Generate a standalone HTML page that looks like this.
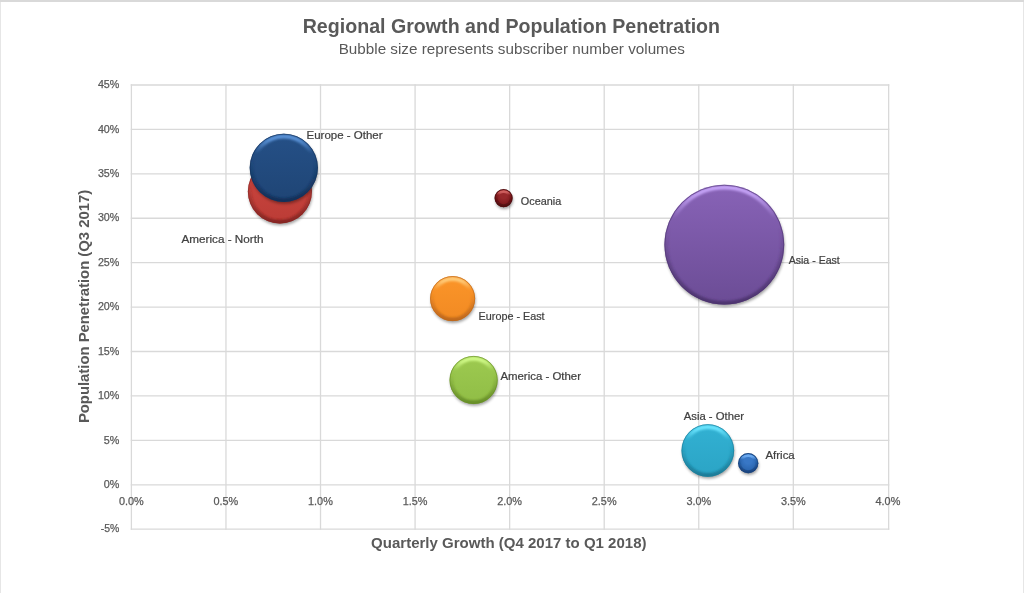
<!DOCTYPE html>
<html><head><meta charset="utf-8"><title>Regional Growth and Population Penetration</title>
<style>html,body{margin:0;padding:0;background:#fff;}body{width:1024px;height:593px;overflow:hidden;}svg{display:block;will-change:transform;font-family:"Liberation Sans",sans-serif;}</style></head><body>
<svg width="1024" height="593" viewBox="0 0 1024 593">
<defs>
<filter id="sh" x="-30%" y="-30%" width="160%" height="160%"><feGaussianBlur stdDeviation="1.7"/></filter>
<filter id="b1" x="-10%" y="-10%" width="120%" height="120%"><feGaussianBlur stdDeviation="1.25"/></filter>
<filter id="b0" x="-10%" y="-10%" width="120%" height="120%"><feGaussianBlur stdDeviation="0.7"/></filter>
<linearGradient id="r_red" x1="0" y1="0" x2="0" y2="1"><stop offset="0" stop-color="#ee8e84"/><stop offset="0.03" stop-color="#ee8e84"/><stop offset="0.24" stop-color="#cd4740"/><stop offset="0.7" stop-color="#bb3c36"/><stop offset="1" stop-color="#7c211e"/></linearGradient>
<radialGradient id="d_red" cx="0.5" cy="0.52" r="0.52" fx="0.5" fy="0.2"><stop offset="0" stop-color="#cd4740"/><stop offset="0.38" stop-color="#cd4740"/><stop offset="0.78" stop-color="#bb3c36"/><stop offset="1" stop-color="#7c211e"/></radialGradient>
<linearGradient id="h_red" x1="0" y1="0" x2="0" y2="1"><stop offset="0" stop-color="#ee8e84" stop-opacity="1"/><stop offset="0.06" stop-color="#ee8e84" stop-opacity="0.95"/><stop offset="0.27" stop-color="#ee8e84" stop-opacity="0"/></linearGradient>
<linearGradient id="l_red" x1="0" y1="0" x2="0" y2="1"><stop offset="0.35" stop-color="#7c211e" stop-opacity="0"/><stop offset="0.8" stop-color="#7c211e" stop-opacity="0.6"/><stop offset="1" stop-color="#7c211e" stop-opacity="0.85"/></linearGradient>
<clipPath id="c_red"><circle cx="279.90" cy="191.50" r="32.00"/></clipPath>
<linearGradient id="f_red" x1="0" y1="0" x2="0" y2="1"><stop offset="0" stop-color="#cd4740"/><stop offset="1" stop-color="#bb3c36"/></linearGradient>
<linearGradient id="r_navy" x1="0" y1="0" x2="0" y2="1"><stop offset="0" stop-color="#5a93d8"/><stop offset="0.03" stop-color="#5a93d8"/><stop offset="0.24" stop-color="#255087"/><stop offset="0.7" stop-color="#1f4575"/><stop offset="1" stop-color="#102c54"/></linearGradient>
<radialGradient id="d_navy" cx="0.5" cy="0.52" r="0.52" fx="0.5" fy="0.2"><stop offset="0" stop-color="#255087"/><stop offset="0.38" stop-color="#255087"/><stop offset="0.78" stop-color="#1f4575"/><stop offset="1" stop-color="#102c54"/></radialGradient>
<linearGradient id="h_navy" x1="0" y1="0" x2="0" y2="1"><stop offset="0" stop-color="#5a93d8" stop-opacity="1"/><stop offset="0.06" stop-color="#5a93d8" stop-opacity="0.95"/><stop offset="0.27" stop-color="#5a93d8" stop-opacity="0"/></linearGradient>
<linearGradient id="l_navy" x1="0" y1="0" x2="0" y2="1"><stop offset="0.35" stop-color="#102c54" stop-opacity="0"/><stop offset="0.8" stop-color="#102c54" stop-opacity="0.6"/><stop offset="1" stop-color="#102c54" stop-opacity="0.85"/></linearGradient>
<clipPath id="c_navy"><circle cx="283.80" cy="167.80" r="34.10"/></clipPath>
<linearGradient id="f_navy" x1="0" y1="0" x2="0" y2="1"><stop offset="0" stop-color="#255087"/><stop offset="1" stop-color="#1f4575"/></linearGradient>
<linearGradient id="r_ocean" x1="0" y1="0" x2="0" y2="1"><stop offset="0" stop-color="#d96a68"/><stop offset="0.03" stop-color="#d96a68"/><stop offset="0.24" stop-color="#97282b"/><stop offset="0.7" stop-color="#7c1a1d"/><stop offset="1" stop-color="#4f0c0f"/></linearGradient>
<radialGradient id="d_ocean" cx="0.5" cy="0.52" r="0.52" fx="0.5" fy="0.2"><stop offset="0" stop-color="#97282b"/><stop offset="0.38" stop-color="#97282b"/><stop offset="0.78" stop-color="#7c1a1d"/><stop offset="1" stop-color="#4f0c0f"/></radialGradient>
<linearGradient id="h_ocean" x1="0" y1="0" x2="0" y2="1"><stop offset="0" stop-color="#d96a68" stop-opacity="1"/><stop offset="0.06" stop-color="#d96a68" stop-opacity="0.95"/><stop offset="0.27" stop-color="#d96a68" stop-opacity="0"/></linearGradient>
<linearGradient id="l_ocean" x1="0" y1="0" x2="0" y2="1"><stop offset="0.35" stop-color="#4f0c0f" stop-opacity="0"/><stop offset="0.8" stop-color="#4f0c0f" stop-opacity="0.6"/><stop offset="1" stop-color="#4f0c0f" stop-opacity="0.85"/></linearGradient>
<clipPath id="c_ocean"><circle cx="503.60" cy="198.10" r="9.05"/></clipPath>
<linearGradient id="f_ocean" x1="0" y1="0" x2="0" y2="1"><stop offset="0" stop-color="#97282b"/><stop offset="1" stop-color="#7c1a1d"/></linearGradient>
<linearGradient id="r_purple" x1="0" y1="0" x2="0" y2="1"><stop offset="0" stop-color="#c6a4f8"/><stop offset="0.03" stop-color="#c6a4f8"/><stop offset="0.24" stop-color="#8863b7"/><stop offset="0.7" stop-color="#6b4c95"/><stop offset="1" stop-color="#483069"/></linearGradient>
<radialGradient id="d_purple" cx="0.5" cy="0.52" r="0.52" fx="0.5" fy="0.2"><stop offset="0" stop-color="#8863b7"/><stop offset="0.38" stop-color="#8863b7"/><stop offset="0.78" stop-color="#6b4c95"/><stop offset="1" stop-color="#483069"/></radialGradient>
<linearGradient id="h_purple" x1="0" y1="0" x2="0" y2="1"><stop offset="0" stop-color="#c6a4f8" stop-opacity="1"/><stop offset="0.06" stop-color="#c6a4f8" stop-opacity="0.95"/><stop offset="0.27" stop-color="#c6a4f8" stop-opacity="0"/></linearGradient>
<linearGradient id="l_purple" x1="0" y1="0" x2="0" y2="1"><stop offset="0.35" stop-color="#483069" stop-opacity="0"/><stop offset="0.8" stop-color="#483069" stop-opacity="0.6"/><stop offset="1" stop-color="#483069" stop-opacity="0.85"/></linearGradient>
<clipPath id="c_purple"><circle cx="724.30" cy="244.70" r="59.90"/></clipPath>
<linearGradient id="f_purple" x1="0" y1="0" x2="0" y2="1"><stop offset="0" stop-color="#8863b7"/><stop offset="1" stop-color="#6b4c95"/></linearGradient>
<linearGradient id="r_orange" x1="0" y1="0" x2="0" y2="1"><stop offset="0" stop-color="#ffcd7c"/><stop offset="0.03" stop-color="#ffcd7c"/><stop offset="0.24" stop-color="#fb9529"/><stop offset="0.7" stop-color="#f18a23"/><stop offset="1" stop-color="#b3611a"/></linearGradient>
<radialGradient id="d_orange" cx="0.5" cy="0.52" r="0.52" fx="0.5" fy="0.2"><stop offset="0" stop-color="#fb9529"/><stop offset="0.38" stop-color="#fb9529"/><stop offset="0.78" stop-color="#f18a23"/><stop offset="1" stop-color="#b3611a"/></radialGradient>
<linearGradient id="h_orange" x1="0" y1="0" x2="0" y2="1"><stop offset="0" stop-color="#ffcd7c" stop-opacity="1"/><stop offset="0.06" stop-color="#ffcd7c" stop-opacity="0.95"/><stop offset="0.27" stop-color="#ffcd7c" stop-opacity="0"/></linearGradient>
<linearGradient id="l_orange" x1="0" y1="0" x2="0" y2="1"><stop offset="0.35" stop-color="#b3611a" stop-opacity="0"/><stop offset="0.8" stop-color="#b3611a" stop-opacity="0.6"/><stop offset="1" stop-color="#b3611a" stop-opacity="0.85"/></linearGradient>
<clipPath id="c_orange"><circle cx="452.60" cy="298.60" r="22.50"/></clipPath>
<linearGradient id="f_orange" x1="0" y1="0" x2="0" y2="1"><stop offset="0" stop-color="#fb9529"/><stop offset="1" stop-color="#f18a23"/></linearGradient>
<linearGradient id="r_green" x1="0" y1="0" x2="0" y2="1"><stop offset="0" stop-color="#d0fa88"/><stop offset="0.03" stop-color="#d0fa88"/><stop offset="0.24" stop-color="#9dca50"/><stop offset="0.7" stop-color="#90bd46"/><stop offset="1" stop-color="#5f8422"/></linearGradient>
<radialGradient id="d_green" cx="0.5" cy="0.52" r="0.52" fx="0.5" fy="0.2"><stop offset="0" stop-color="#9dca50"/><stop offset="0.38" stop-color="#9dca50"/><stop offset="0.78" stop-color="#90bd46"/><stop offset="1" stop-color="#5f8422"/></radialGradient>
<linearGradient id="h_green" x1="0" y1="0" x2="0" y2="1"><stop offset="0" stop-color="#d0fa88" stop-opacity="1"/><stop offset="0.06" stop-color="#d0fa88" stop-opacity="0.95"/><stop offset="0.27" stop-color="#d0fa88" stop-opacity="0"/></linearGradient>
<linearGradient id="l_green" x1="0" y1="0" x2="0" y2="1"><stop offset="0.35" stop-color="#5f8422" stop-opacity="0"/><stop offset="0.8" stop-color="#5f8422" stop-opacity="0.6"/><stop offset="1" stop-color="#5f8422" stop-opacity="0.85"/></linearGradient>
<clipPath id="c_green"><circle cx="473.60" cy="380.00" r="24.05"/></clipPath>
<linearGradient id="f_green" x1="0" y1="0" x2="0" y2="1"><stop offset="0" stop-color="#9dca50"/><stop offset="1" stop-color="#90bd46"/></linearGradient>
<linearGradient id="r_cyan" x1="0" y1="0" x2="0" y2="1"><stop offset="0" stop-color="#6ce6ff"/><stop offset="0.03" stop-color="#6ce6ff"/><stop offset="0.24" stop-color="#32b1d3"/><stop offset="0.7" stop-color="#2ba4c5"/><stop offset="1" stop-color="#17748f"/></linearGradient>
<radialGradient id="d_cyan" cx="0.5" cy="0.52" r="0.52" fx="0.5" fy="0.2"><stop offset="0" stop-color="#32b1d3"/><stop offset="0.38" stop-color="#32b1d3"/><stop offset="0.78" stop-color="#2ba4c5"/><stop offset="1" stop-color="#17748f"/></radialGradient>
<linearGradient id="h_cyan" x1="0" y1="0" x2="0" y2="1"><stop offset="0" stop-color="#6ce6ff" stop-opacity="1"/><stop offset="0.06" stop-color="#6ce6ff" stop-opacity="0.95"/><stop offset="0.27" stop-color="#6ce6ff" stop-opacity="0"/></linearGradient>
<linearGradient id="l_cyan" x1="0" y1="0" x2="0" y2="1"><stop offset="0.35" stop-color="#17748f" stop-opacity="0"/><stop offset="0.8" stop-color="#17748f" stop-opacity="0.6"/><stop offset="1" stop-color="#17748f" stop-opacity="0.85"/></linearGradient>
<clipPath id="c_cyan"><circle cx="707.80" cy="450.50" r="26.30"/></clipPath>
<linearGradient id="f_cyan" x1="0" y1="0" x2="0" y2="1"><stop offset="0" stop-color="#32b1d3"/><stop offset="1" stop-color="#2ba4c5"/></linearGradient>
<linearGradient id="r_africa" x1="0" y1="0" x2="0" y2="1"><stop offset="0" stop-color="#74b2f6"/><stop offset="0.03" stop-color="#74b2f6"/><stop offset="0.24" stop-color="#3877c6"/><stop offset="0.7" stop-color="#2b66b0"/><stop offset="1" stop-color="#18427c"/></linearGradient>
<radialGradient id="d_africa" cx="0.5" cy="0.52" r="0.52" fx="0.5" fy="0.2"><stop offset="0" stop-color="#3877c6"/><stop offset="0.38" stop-color="#3877c6"/><stop offset="0.78" stop-color="#2b66b0"/><stop offset="1" stop-color="#18427c"/></radialGradient>
<linearGradient id="h_africa" x1="0" y1="0" x2="0" y2="1"><stop offset="0" stop-color="#74b2f6" stop-opacity="1"/><stop offset="0.06" stop-color="#74b2f6" stop-opacity="0.95"/><stop offset="0.27" stop-color="#74b2f6" stop-opacity="0"/></linearGradient>
<linearGradient id="l_africa" x1="0" y1="0" x2="0" y2="1"><stop offset="0.35" stop-color="#18427c" stop-opacity="0"/><stop offset="0.8" stop-color="#18427c" stop-opacity="0.6"/><stop offset="1" stop-color="#18427c" stop-opacity="0.85"/></linearGradient>
<clipPath id="c_africa"><circle cx="748.20" cy="463.20" r="10.10"/></clipPath>
<linearGradient id="f_africa" x1="0" y1="0" x2="0" y2="1"><stop offset="0" stop-color="#3877c6"/><stop offset="1" stop-color="#2b66b0"/></linearGradient>
</defs>
<rect x="0" y="0" width="1024" height="593" fill="#ffffff"/>
<rect x="0" y="0" width="1024" height="2" fill="#d9d9d9"/>
<rect x="0" y="2" width="1" height="591" fill="#e6e6e6"/>
<rect x="1023" y="2" width="1" height="591" fill="#e6e6e6"/>
<g stroke="#d9d9d9" stroke-width="1.3" fill="none">
<line x1="131.40" y1="84.35" x2="131.40" y2="529.85"/>
<line x1="225.96" y1="84.35" x2="225.96" y2="529.85"/>
<line x1="320.52" y1="84.35" x2="320.52" y2="529.85"/>
<line x1="415.08" y1="84.35" x2="415.08" y2="529.85"/>
<line x1="509.64" y1="84.35" x2="509.64" y2="529.85"/>
<line x1="604.20" y1="84.35" x2="604.20" y2="529.85"/>
<line x1="698.76" y1="84.35" x2="698.76" y2="529.85"/>
<line x1="793.32" y1="84.35" x2="793.32" y2="529.85"/>
<line x1="888.65" y1="84.35" x2="888.65" y2="529.85"/>
<line x1="130.75" y1="85.00" x2="889.30" y2="85.00"/>
<line x1="130.75" y1="129.42" x2="889.30" y2="129.42"/>
<line x1="130.75" y1="173.84" x2="889.30" y2="173.84"/>
<line x1="130.75" y1="218.26" x2="889.30" y2="218.26"/>
<line x1="130.75" y1="262.68" x2="889.30" y2="262.68"/>
<line x1="130.75" y1="307.10" x2="889.30" y2="307.10"/>
<line x1="130.75" y1="351.52" x2="889.30" y2="351.52"/>
<line x1="130.75" y1="395.94" x2="889.30" y2="395.94"/>
<line x1="130.75" y1="440.36" x2="889.30" y2="440.36"/>
<line x1="130.75" y1="484.78" x2="889.30" y2="484.78"/>
<line x1="130.75" y1="529.20" x2="889.30" y2="529.20"/>
</g>
<text x="511.4" y="32.6" font-size="20.4" font-weight="bold" fill="#595959" text-anchor="middle" textLength="417.4" lengthAdjust="spacingAndGlyphs">Regional Growth and Population Penetration</text>
<text x="511.8" y="54.0" font-size="14" fill="#595959" text-anchor="middle" textLength="346.2" lengthAdjust="spacingAndGlyphs">Bubble size represents subscriber number volumes</text>
<g font-size="11" fill="#595959" stroke="#595959" stroke-width="0.25" text-anchor="end">
<text x="119.4" y="88.20" textLength="21.5" lengthAdjust="spacingAndGlyphs">45%</text>
<text x="119.4" y="132.62" textLength="21.5" lengthAdjust="spacingAndGlyphs">40%</text>
<text x="119.4" y="177.04" textLength="21.5" lengthAdjust="spacingAndGlyphs">35%</text>
<text x="119.4" y="221.46" textLength="21.5" lengthAdjust="spacingAndGlyphs">30%</text>
<text x="119.4" y="265.88" textLength="21.5" lengthAdjust="spacingAndGlyphs">25%</text>
<text x="119.4" y="310.30" textLength="21.5" lengthAdjust="spacingAndGlyphs">20%</text>
<text x="119.4" y="354.72" textLength="21.5" lengthAdjust="spacingAndGlyphs">15%</text>
<text x="119.4" y="399.14" textLength="21.5" lengthAdjust="spacingAndGlyphs">10%</text>
<text x="119.4" y="443.56" textLength="15.6" lengthAdjust="spacingAndGlyphs">5%</text>
<text x="119.4" y="487.98" textLength="15.6" lengthAdjust="spacingAndGlyphs">0%</text>
<text x="119.4" y="532.40" textLength="18.6" lengthAdjust="spacingAndGlyphs">-5%</text>
</g>
<g font-size="11" fill="#595959" stroke="#595959" stroke-width="0.25" text-anchor="middle">
<text x="131.30" y="504.9" textLength="24.8" lengthAdjust="spacingAndGlyphs">0.0%</text>
<text x="225.88" y="504.9" textLength="24.8" lengthAdjust="spacingAndGlyphs">0.5%</text>
<text x="320.46" y="504.9" textLength="24.8" lengthAdjust="spacingAndGlyphs">1.0%</text>
<text x="415.04" y="504.9" textLength="24.8" lengthAdjust="spacingAndGlyphs">1.5%</text>
<text x="509.62" y="504.9" textLength="24.8" lengthAdjust="spacingAndGlyphs">2.0%</text>
<text x="604.20" y="504.9" textLength="24.8" lengthAdjust="spacingAndGlyphs">2.5%</text>
<text x="698.78" y="504.9" textLength="24.8" lengthAdjust="spacingAndGlyphs">3.0%</text>
<text x="793.36" y="504.9" textLength="24.8" lengthAdjust="spacingAndGlyphs">3.5%</text>
<text x="887.94" y="504.9" textLength="24.8" lengthAdjust="spacingAndGlyphs">4.0%</text>
</g>
<text x="508.8" y="547.9" font-size="14.5" font-weight="bold" fill="#595959" text-anchor="middle" textLength="275.4" lengthAdjust="spacingAndGlyphs">Quarterly Growth (Q4 2017 to Q1 2018)</text>
<text transform="translate(88.7,306.5) rotate(-90)" font-size="14.5" font-weight="bold" fill="#595959" text-anchor="middle" textLength="233.2" lengthAdjust="spacingAndGlyphs">Population Penetration (Q3 2017)</text>
<g>
<circle cx="280.60" cy="193.60" r="31.70" fill="#000" opacity="0.38" filter="url(#sh)"/>
<circle cx="279.90" cy="191.50" r="32.00" fill="url(#f_red)"/>
<g clip-path="url(#c_red)">
<circle cx="279.90" cy="191.50" r="30.40" fill="none" stroke="url(#l_red)" stroke-width="4.2" filter="url(#b1)"/>
<circle cx="279.90" cy="191.50" r="29.20" fill="none" stroke="url(#h_red)" stroke-width="4.0" filter="url(#b1)"/>
</g>
<circle cx="279.90" cy="191.50" r="31.60" fill="none" stroke="#7c211e" stroke-width="0.8" opacity="0.7"/>
</g>
<g>
<circle cx="284.50" cy="169.90" r="33.80" fill="#000" opacity="0.38" filter="url(#sh)"/>
<circle cx="283.80" cy="167.80" r="34.10" fill="url(#f_navy)"/>
<g clip-path="url(#c_navy)">
<circle cx="283.80" cy="167.80" r="32.50" fill="none" stroke="url(#l_navy)" stroke-width="4.2" filter="url(#b1)"/>
<circle cx="283.80" cy="167.80" r="31.30" fill="none" stroke="url(#h_navy)" stroke-width="4.0" filter="url(#b1)"/>
</g>
<circle cx="283.80" cy="167.80" r="33.70" fill="none" stroke="#102c54" stroke-width="0.8" opacity="0.7"/>
</g>
<g>
<circle cx="504.30" cy="200.20" r="8.75" fill="#000" opacity="0.38" filter="url(#sh)"/>
<circle cx="503.60" cy="198.10" r="9.05" fill="url(#d_ocean)"/>
<g clip-path="url(#c_ocean)">
<circle cx="503.60" cy="198.10" r="7.65" fill="none" stroke="url(#l_ocean)" stroke-width="3.2" filter="url(#b0)"/>
<circle cx="503.60" cy="198.10" r="6.55" fill="none" stroke="url(#h_ocean)" stroke-width="2.8" filter="url(#b0)" opacity="0.85"/>
</g>
<circle cx="503.60" cy="198.10" r="8.65" fill="none" stroke="#4f0c0f" stroke-width="0.8" opacity="0.6"/>
</g>
<g>
<circle cx="725.00" cy="246.80" r="59.60" fill="#000" opacity="0.38" filter="url(#sh)"/>
<circle cx="724.30" cy="244.70" r="59.90" fill="url(#f_purple)"/>
<g clip-path="url(#c_purple)">
<circle cx="724.30" cy="244.70" r="58.30" fill="none" stroke="url(#l_purple)" stroke-width="4.2" filter="url(#b1)"/>
<circle cx="724.30" cy="244.70" r="57.10" fill="none" stroke="url(#h_purple)" stroke-width="4.0" filter="url(#b1)"/>
</g>
<circle cx="724.30" cy="244.70" r="59.50" fill="none" stroke="#483069" stroke-width="0.8" opacity="0.7"/>
</g>
<g>
<circle cx="453.30" cy="300.70" r="22.20" fill="#000" opacity="0.38" filter="url(#sh)"/>
<circle cx="452.60" cy="298.60" r="22.50" fill="url(#f_orange)"/>
<g clip-path="url(#c_orange)">
<circle cx="452.60" cy="298.60" r="20.90" fill="none" stroke="url(#l_orange)" stroke-width="4.2" filter="url(#b1)"/>
<circle cx="452.60" cy="298.60" r="19.70" fill="none" stroke="url(#h_orange)" stroke-width="4.0" filter="url(#b1)"/>
</g>
<circle cx="452.60" cy="298.60" r="22.10" fill="none" stroke="#b3611a" stroke-width="0.8" opacity="0.7"/>
</g>
<g>
<circle cx="474.30" cy="382.10" r="23.75" fill="#000" opacity="0.38" filter="url(#sh)"/>
<circle cx="473.60" cy="380.00" r="24.05" fill="url(#f_green)"/>
<g clip-path="url(#c_green)">
<circle cx="473.60" cy="380.00" r="22.45" fill="none" stroke="url(#l_green)" stroke-width="4.2" filter="url(#b1)"/>
<circle cx="473.60" cy="380.00" r="21.25" fill="none" stroke="url(#h_green)" stroke-width="4.0" filter="url(#b1)"/>
</g>
<circle cx="473.60" cy="380.00" r="23.65" fill="none" stroke="#5f8422" stroke-width="0.8" opacity="0.7"/>
</g>
<g>
<circle cx="708.50" cy="452.60" r="26.00" fill="#000" opacity="0.38" filter="url(#sh)"/>
<circle cx="707.80" cy="450.50" r="26.30" fill="url(#f_cyan)"/>
<g clip-path="url(#c_cyan)">
<circle cx="707.80" cy="450.50" r="24.70" fill="none" stroke="url(#l_cyan)" stroke-width="4.2" filter="url(#b1)"/>
<circle cx="707.80" cy="450.50" r="23.50" fill="none" stroke="url(#h_cyan)" stroke-width="4.0" filter="url(#b1)"/>
</g>
<circle cx="707.80" cy="450.50" r="25.90" fill="none" stroke="#17748f" stroke-width="0.8" opacity="0.7"/>
</g>
<g>
<circle cx="748.90" cy="465.30" r="9.80" fill="#000" opacity="0.38" filter="url(#sh)"/>
<circle cx="748.20" cy="463.20" r="10.10" fill="url(#d_africa)"/>
<g clip-path="url(#c_africa)">
<circle cx="748.20" cy="463.20" r="8.70" fill="none" stroke="url(#l_africa)" stroke-width="3.2" filter="url(#b0)"/>
<circle cx="748.20" cy="463.20" r="7.60" fill="none" stroke="url(#h_africa)" stroke-width="2.8" filter="url(#b0)" opacity="0.85"/>
</g>
<circle cx="748.20" cy="463.20" r="9.70" fill="none" stroke="#18427c" stroke-width="0.8" opacity="0.6"/>
</g>
<g font-size="10.3" fill="#404040" stroke="#404040" stroke-width="0.2">
<text x="306.5" y="138.5" textLength="76.0" lengthAdjust="spacingAndGlyphs">Europe - Other</text>
<text x="181.5" y="242.6" textLength="82.0" lengthAdjust="spacingAndGlyphs">America - North</text>
<text x="520.8" y="204.6" textLength="40.4" lengthAdjust="spacingAndGlyphs">Oceania</text>
<text x="788.7" y="264.1" textLength="51.1" lengthAdjust="spacingAndGlyphs">Asia - East</text>
<text x="478.6" y="320.1" textLength="66.0" lengthAdjust="spacingAndGlyphs">Europe - East</text>
<text x="500.4" y="380.3" textLength="80.6" lengthAdjust="spacingAndGlyphs">America - Other</text>
<text x="683.75" y="420.4" textLength="60.25" lengthAdjust="spacingAndGlyphs">Asia - Other</text>
<text x="765.5" y="458.6" textLength="29.2" lengthAdjust="spacingAndGlyphs">Africa</text>
</g>
</svg></body></html>
